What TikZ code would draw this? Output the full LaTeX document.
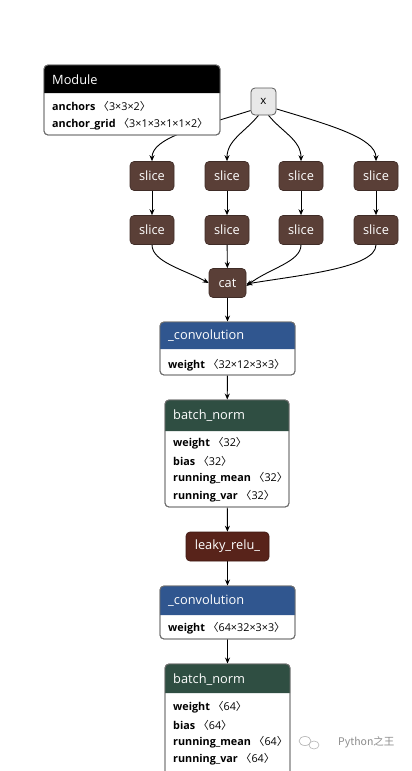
\documentclass[tikz,border=0pt]{standalone}
\usepackage{fontspec}
\setmainfont{Open Sans}
\newfontfamily\cjk{Noto Sans CJK SC}
\usetikzlibrary{arrows.meta}
\definecolor{slicec}{HTML}{5A3F37}
\definecolor{convc}{HTML}{30568F}
\definecolor{bnc}{HTML}{2F4E42}
\definecolor{reluc}{HTML}{58231A}
\definecolor{bordc}{HTML}{6E6E6E}
\definecolor{xfill}{HTML}{E8E8E8}
\newcommand\dims[1]{\textmd{\cjk 〈}\textmd{#1}\textmd{\cjk 〉}}
\newcommand\hdrtext[1]{\fontsize{12.8}{15}\selectfont #1}
\pgfdeclarelayer{bg}
\pgfdeclarelayer{paper}
\pgfsetlayers{paper,bg,main}
\tikzset{
  arr/.style={draw=black, line width=0.9pt, -{Stealth[length=6pt,width=5pt]}},
  op/.style={rectangle, rounded corners=4pt, fill=slicec, draw=slicec!70!black, line width=0.6pt,
    text=white, font=\hdrtext, minimum width=44pt, minimum height=29pt, inner sep=0pt},
  xnode/.style={rectangle, rounded corners=4pt, fill=xfill, draw=black!65, line width=0.8pt,
    font=\fontsize{11.5}{13}\selectfont, minimum width=25pt, minimum height=27pt, inner sep=0pt},
  tbl/.style={rectangle, rounded corners=4pt, fill=white, draw=bordc, line width=0.9pt, inner sep=0pt},
  hdr/.style={text=white, anchor=west, font=\hdrtext, inner sep=0pt},
  row/.style={anchor=west, font=\fontsize{10.8}{12}\selectfont\bfseries, inner sep=0pt},
  wm/.style={anchor=west, text=black!45, font=\cjk\fontsize{10.5}{12}\selectfont, inner sep=0pt}
}
\begin{document}
\begin{tikzpicture}[x=1pt,y=-1pt]
\clip (0,0) rectangle (412,771);
\begin{pgfonlayer}{paper}
\fill[white] (0,0) rectangle (412,771);
\end{pgfonlayer}

% ---------- nodes ----------
\node[xnode] (x) at (263.5,101.5) {x};

\node[op] (s1a) at (152,176) {slice};
\node[op] (s2a) at (227,176) {slice};
\node[op] (s3a) at (301,176) {slice};
\node[op] (s4a) at (376,176) {slice};
\node[op] (s1b) at (152,230) {slice};
\node[op] (s2b) at (227,230) {slice};
\node[op] (s3b) at (301,230) {slice};
\node[op] (s4b) at (376,230) {slice};
\node[op, minimum width=37pt] (cat) at (227.5,283) {cat};

% Module table
\node[tbl, minimum width=176pt, minimum height=70pt] (mod) at (132,100) {};
\fill[black] (44,93) [rounded corners=4pt] -- (44,65) -- (220,65) [sharp corners] -- (220,93) -- cycle;
\draw[bordc, line width=0.9pt, rounded corners=4pt] (44,65) rectangle (220,135);
\node[hdr] (modt) at (52,80) {Module};
\node[row] (modr1) at (52,106) {anchors \dims{3×3×2}};
\node[row] (modr2) at (52,124) {anchor\_grid \dims{3×1×3×1×1×2}};

% convolution 1
\node[tbl, minimum width=135pt, minimum height=53pt] (conv1) at (227.5,348.5) {};
\fill[convc] (160,349) [rounded corners=4pt] -- (160,322) -- (295,322) [sharp corners] -- (295,349) -- cycle;
\draw[bordc, line width=0.9pt, rounded corners=4pt] (160,322) rectangle (295,375);
\node[hdr] (conv1t) at (168,336) {\_convolution};
\node[row] (conv1r) at (168,365) {weight \dims{32×12×3×3}};

% batch norm 1
\node[tbl, minimum width=124pt, minimum height=107pt] (bn1) at (227,453.5) {};
\fill[bnc] (165,431) [rounded corners=4pt] -- (165,400) -- (289,400) [sharp corners] -- (289,431) -- cycle;
\draw[bordc, line width=0.9pt, rounded corners=4pt] (165,400) rectangle (289,507);
\node[hdr] (bn1t) at (173,416) {batch\_norm};
\node[row] (bn1r1) at (173,443) {weight \dims{32}};
\node[row] (bn1r2) at (173,461) {bias \dims{32}};
\node[row] (bn1r3) at (173,478.5) {running\_mean \dims{32}};
\node[row] (bn1r4) at (173,496) {running\_var \dims{32}};

% leaky relu
\node[op, fill=reluc, draw=reluc!70!black, minimum width=83pt] (relu) at (227.5,546.5) {leaky\_relu\_};

% convolution 2
\node[tbl, minimum width=135pt, minimum height=53pt] (conv2) at (227.5,612.5) {};
\fill[convc] (160,615) [rounded corners=4pt] -- (160,586) -- (295,586) [sharp corners] -- (295,615) -- cycle;
\draw[bordc, line width=0.9pt, rounded corners=4pt] (160,586) rectangle (295,639);
\node[hdr] (conv2t) at (168,601) {\_convolution};
\node[row] (conv2r) at (168,628) {weight \dims{64×32×3×3}};

% batch norm 2
\node[tbl, minimum width=125pt, minimum height=112pt] (bn2) at (227.5,720) {};
\fill[bnc] (165,693) [rounded corners=4pt] -- (165,664) -- (290,664) [sharp corners] -- (290,693) -- cycle;
\draw[bordc, line width=0.9pt, rounded corners=4pt] (165,664) rectangle (290,776);
\node[hdr] (bn2t) at (173,679.5) {batch\_norm};
\node[row] (bn2r1) at (173,707) {weight \dims{64}};
\node[row] (bn2r2) at (173,725) {bias \dims{64}};
\node[row] (bn2r3) at (173,742) {running\_mean \dims{64}};
\node[row] (bn2r4) at (173,759.5) {running\_var \dims{64}};

% watermark
\node[wm] (wmark) at (338,742) {Python之王};
\draw[black!30, line width=0.6pt] (305,741) ellipse (6pt and 4.5pt);
\draw[black!30, line width=0.6pt, fill=white] (314,745) ellipse (5pt and 4pt);

% ---------- connectors ----------
\begin{pgfonlayer}{bg}
\draw[arr] (x.215) .. controls (195,128) and (152,138) .. (s1a.north);
\draw[arr] (x.250) .. controls (245,132) and (227,140) .. (s2a.north);
\draw[arr] (x.290) .. controls (282,132) and (301,140) .. (s3a.north);
\draw[arr] (x.330) .. controls (330,125) and (376,138) .. (s4a.north);
\draw[arr] (s1a) -- (s1b);
\draw[arr] (s2a) -- (s2b);
\draw[arr] (s3a) -- (s3b);
\draw[arr] (s4a) -- (s4b);
\draw[arr] (s1b.south) .. controls (152,262) and (185,270) .. (cat.west);
\draw[arr] (s2b) -- (cat);
\draw[arr] (s3b.south) .. controls (301,262) and (270,268) .. ([yshift=-3pt]cat.east);
\draw[arr] (s4b.south) .. controls (376,268) and (300,275) .. ([yshift=-1pt]cat.east);
\draw[arr] (cat) -- (conv1);
\draw[arr] (conv1) -- (bn1);
\draw[arr] (bn1) -- (relu);
\draw[arr] (relu) -- (conv2);
\draw[arr] (conv2) -- (bn2);
\end{pgfonlayer}
\end{tikzpicture}
\end{document}
